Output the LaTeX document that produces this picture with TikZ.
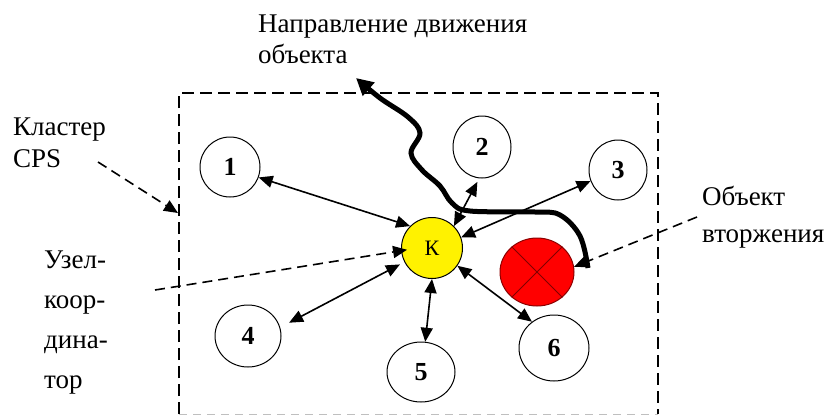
\documentclass[tikz,border=0pt]{standalone}
\usepackage{fontspec}
\setmainfont{Liberation Serif}
\usetikzlibrary{arrows.meta,shapes.geometric}

\tikzset{
  sensor/.style={ellipse, draw, line width=1pt, minimum width=60pt, minimum height=60pt, inner sep=0pt,
    font=\fontsize{26}{26}\selectfont\bfseries},
  link/.style={line width=1.6pt, {Triangle[length=14pt,width=12pt]}-{Triangle[length=14pt,width=12pt]}},
  pointer/.style={line width=1.6pt, dash pattern=on 10pt off 6pt, -{Triangle[length=14pt,width=12pt]}},
  track/.style={line width=5pt, -{Triangle[length=17pt,width=17pt]}},
  note/.style={align=left, anchor=base west, inner sep=0pt},
}

\begin{document}
\begin{tikzpicture}[x=1pt,y=-1pt]
  \useasboundingbox (0,0) rectangle (830,416);

  % cluster frame
  \draw[line width=2pt, dash pattern=on 12pt off 6pt] (179,414) -- (179,93) -- (658,93) -- (658,414);
  \draw[gray!50, line width=1pt, dash pattern=on 8pt off 6pt] (179,414) -- (658,414);

  % nodes
  \node[sensor] (n1) at (230,167) {1};
  \node[sensor, minimum width=58pt, minimum height=62pt] (n2) at (482,147) {2};
  \node[sensor, minimum width=58pt] (n3) at (618,170) {3};
  \node[sensor, minimum width=66pt, minimum height=62pt] (n4) at (248,336) {4};
  \node[sensor, minimum width=68pt] (n5) at (421,372) {5};
  \node[sensor, minimum width=70pt, minimum height=66pt] (n6) at (554,348) {6};
  \node[circle, draw, line width=1pt, fill=yellow, minimum size=61pt, inner sep=0pt,
    font=\fontsize{22}{22}\selectfont] (k) at (432,248) {К};
  \node[ellipse, draw=red!55!black, line width=1pt, fill=red, minimum width=74pt, minimum height=68pt] (intr) at (537,272) {};
  \draw[red!50!black, line width=1pt] (intr.45) -- (intr.225) (intr.135) -- (intr.-45);

  % links to the coordinator
  \draw[link] (n1.-20) -- (k.135);
  \draw[link, shorten <=4pt] (n2.-95) -- (k.45);
  \draw[link] (n3.202) -- (k.20);
  \draw[link, shorten <=10pt, shorten >=5pt] (n4.15) -- (k.207);
  \draw[link] (n5.82) -- (k.-90);
  \draw[link] (n6.130) -- (k.-35);

  % labels (anchored at the baseline of the last line)
  \node[note, font=\fontsize{27}{31}\selectfont] (dirlbl) at (258,63) {Направление движения\\объекта};
  \node[note, font=\fontsize{27}{32}\selectfont] (clusterlbl) at (13,167) {Кластер\\CPS};
  \node[note, font=\fontsize{27}{40}\selectfont] (coordlbl) at (44,388) {Узел-\\коор-\\дина-\\тор};
  \node[note, font=\fontsize{27}{37}\selectfont] (intrlbl) at (702,242) {Объект\\вторжения};

  % dashed pointers
  \coordinate (clusterfrom) at (98,162);
  \coordinate (clusterto) at (178,213);
  \coordinate (coordfrom) at (155,290);
  \coordinate (intrfrom) at (697,217);
  \draw[pointer] (clusterfrom) -- (clusterto);
  \draw[pointer, shorten >=-6pt] (coordfrom) -- (k.185);
  \draw[pointer] (intrfrom) -- (intr.8);

  % movement of the object
  \coordinate (trackstart) at (588,268);
  \coordinate (trackend) at (356,78);
  \draw[track] plot[smooth, tension=0.6] coordinates {(trackstart) (580,236) (560,215) (535,212)
    (470,211) (452,203) (440,186) (422,170) (411,153) (420,133) (408,117) (380,98) (trackend)};
\end{tikzpicture}
\end{document}
